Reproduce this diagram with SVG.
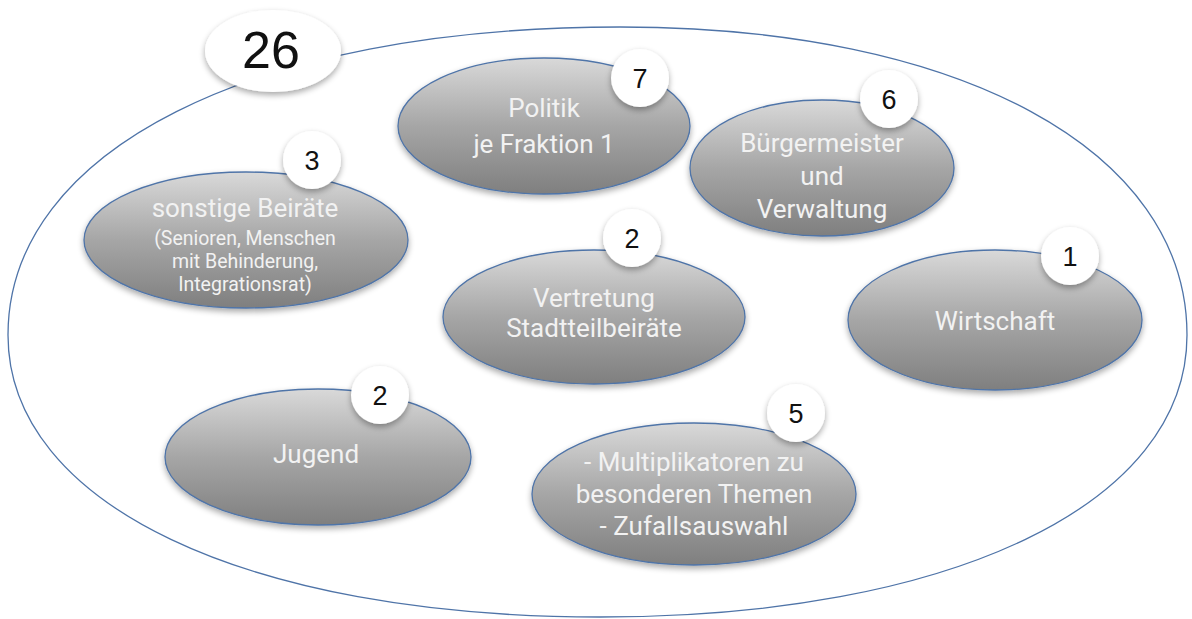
<svg xmlns="http://www.w3.org/2000/svg" width="1192" height="619" viewBox="0 0 1192 619">
<defs>
<linearGradient id="g" x1="0" y1="0" x2="0" y2="1">
<stop offset="0" stop-color="#d9d9d9"/>
<stop offset="0.5" stop-color="#a6a6a6"/>
<stop offset="1" stop-color="#7f7f7f"/>
</linearGradient>
<filter id="sh" x="-20%" y="-20%" width="140%" height="150%">
<feGaussianBlur in="SourceAlpha" stdDeviation="3"/>
<feOffset dx="0" dy="3" result="b"/>
<feComponentTransfer><feFuncA type="linear" slope="0.35"/></feComponentTransfer>
<feMerge><feMergeNode/><feMergeNode in="SourceGraphic"/></feMerge>
</filter>
</defs>
<style>
.n{fill:url(#g);stroke:#4f74a8;stroke-width:1.3;filter:url(#sh)}
.b{fill:#fff;filter:url(#sh)}
.t{font-family:Roboto,"Liberation Sans",sans-serif;fill:#f2f2f2;text-anchor:middle;font-size:26px}
.s{font-size:19.5px}
.k{font-family:"Liberation Sans",Arial,sans-serif;fill:#111;text-anchor:middle;font-size:27px}
</style>
<rect width="1192" height="619" fill="#fff"/>
<g id="outer">
<path d="M 8 335 C 8 150, 253 27, 620 27 C 960 27, 1187 150, 1187 335 C 1187 504, 952 617, 600 617 C 245 617, 8 504, 8 335 Z" fill="none" stroke="#4f74a8" stroke-width="1.3"/>
</g>
<g id="total">
<ellipse class="b" cx="273" cy="51" rx="68" ry="41"/>
<text class="k" x="271" y="68" style="font-size:52px">26</text>
</g>
<g id="politik">
<ellipse class="n" cx="544" cy="126" rx="146" ry="68"/>
<text class="t" x="544" y="117">Politik</text>
<text class="t" x="544" y="153">je Fraktion 1</text>
<circle class="b" cx="640" cy="78" r="29"/>
<text class="k" x="640" y="88">7</text>
</g>
<g id="buergermeister">
<ellipse class="n" cx="822" cy="168" rx="132" ry="68"/>
<text class="t" x="822" y="152">Bürgermeister</text>
<text class="t" x="822" y="185">und</text>
<text class="t" x="822" y="218">Verwaltung</text>
<circle class="b" cx="889" cy="99" r="29"/>
<text class="k" x="889" y="109">6</text>
</g>
<g id="beiraete">
<ellipse class="n" cx="246" cy="240" rx="162" ry="68"/>
<text class="t" x="245" y="217">sonstige Beiräte</text>
<text class="t s" x="245" y="245">(Senioren, Menschen</text>
<text class="t s" x="245" y="268">mit Behinderung,</text>
<text class="t s" x="245" y="291">Integrationsrat)</text>
<circle class="b" cx="312" cy="160" r="29"/>
<text class="k" x="312" y="170">3</text>
</g>
<g id="vertretung">
<ellipse class="n" cx="594" cy="317" rx="151" ry="67"/>
<text class="t" x="594" y="307">Vertretung</text>
<text class="t" x="594" y="337">Stadtteilbeiräte</text>
<circle class="b" cx="632" cy="238" r="29"/>
<text class="k" x="632" y="248">2</text>
</g>
<g id="wirtschaft">
<ellipse class="n" cx="995" cy="320" rx="147" ry="70"/>
<text class="t" x="995" y="330">Wirtschaft</text>
<circle class="b" cx="1070" cy="256" r="29"/>
<text class="k" x="1070" y="266">1</text>
</g>
<g id="jugend">
<ellipse class="n" cx="318" cy="457" rx="153" ry="68"/>
<text class="t" x="316" y="463">Jugend</text>
<circle class="b" cx="380" cy="395" r="29"/>
<text class="k" x="380" y="405">2</text>
</g>
<g id="multiplikatoren">
<ellipse class="n" cx="694" cy="494" rx="162" ry="71"/>
<text class="t" x="694" y="471">- Multiplikatoren zu</text>
<text class="t" x="694" y="503">besonderen Themen</text>
<text class="t" x="694" y="535">- Zufallsauswahl</text>
<circle class="b" cx="796" cy="413" r="29"/>
<text class="k" x="796" y="423">5</text>
</g>
<g id="connectors"/>
</svg>
